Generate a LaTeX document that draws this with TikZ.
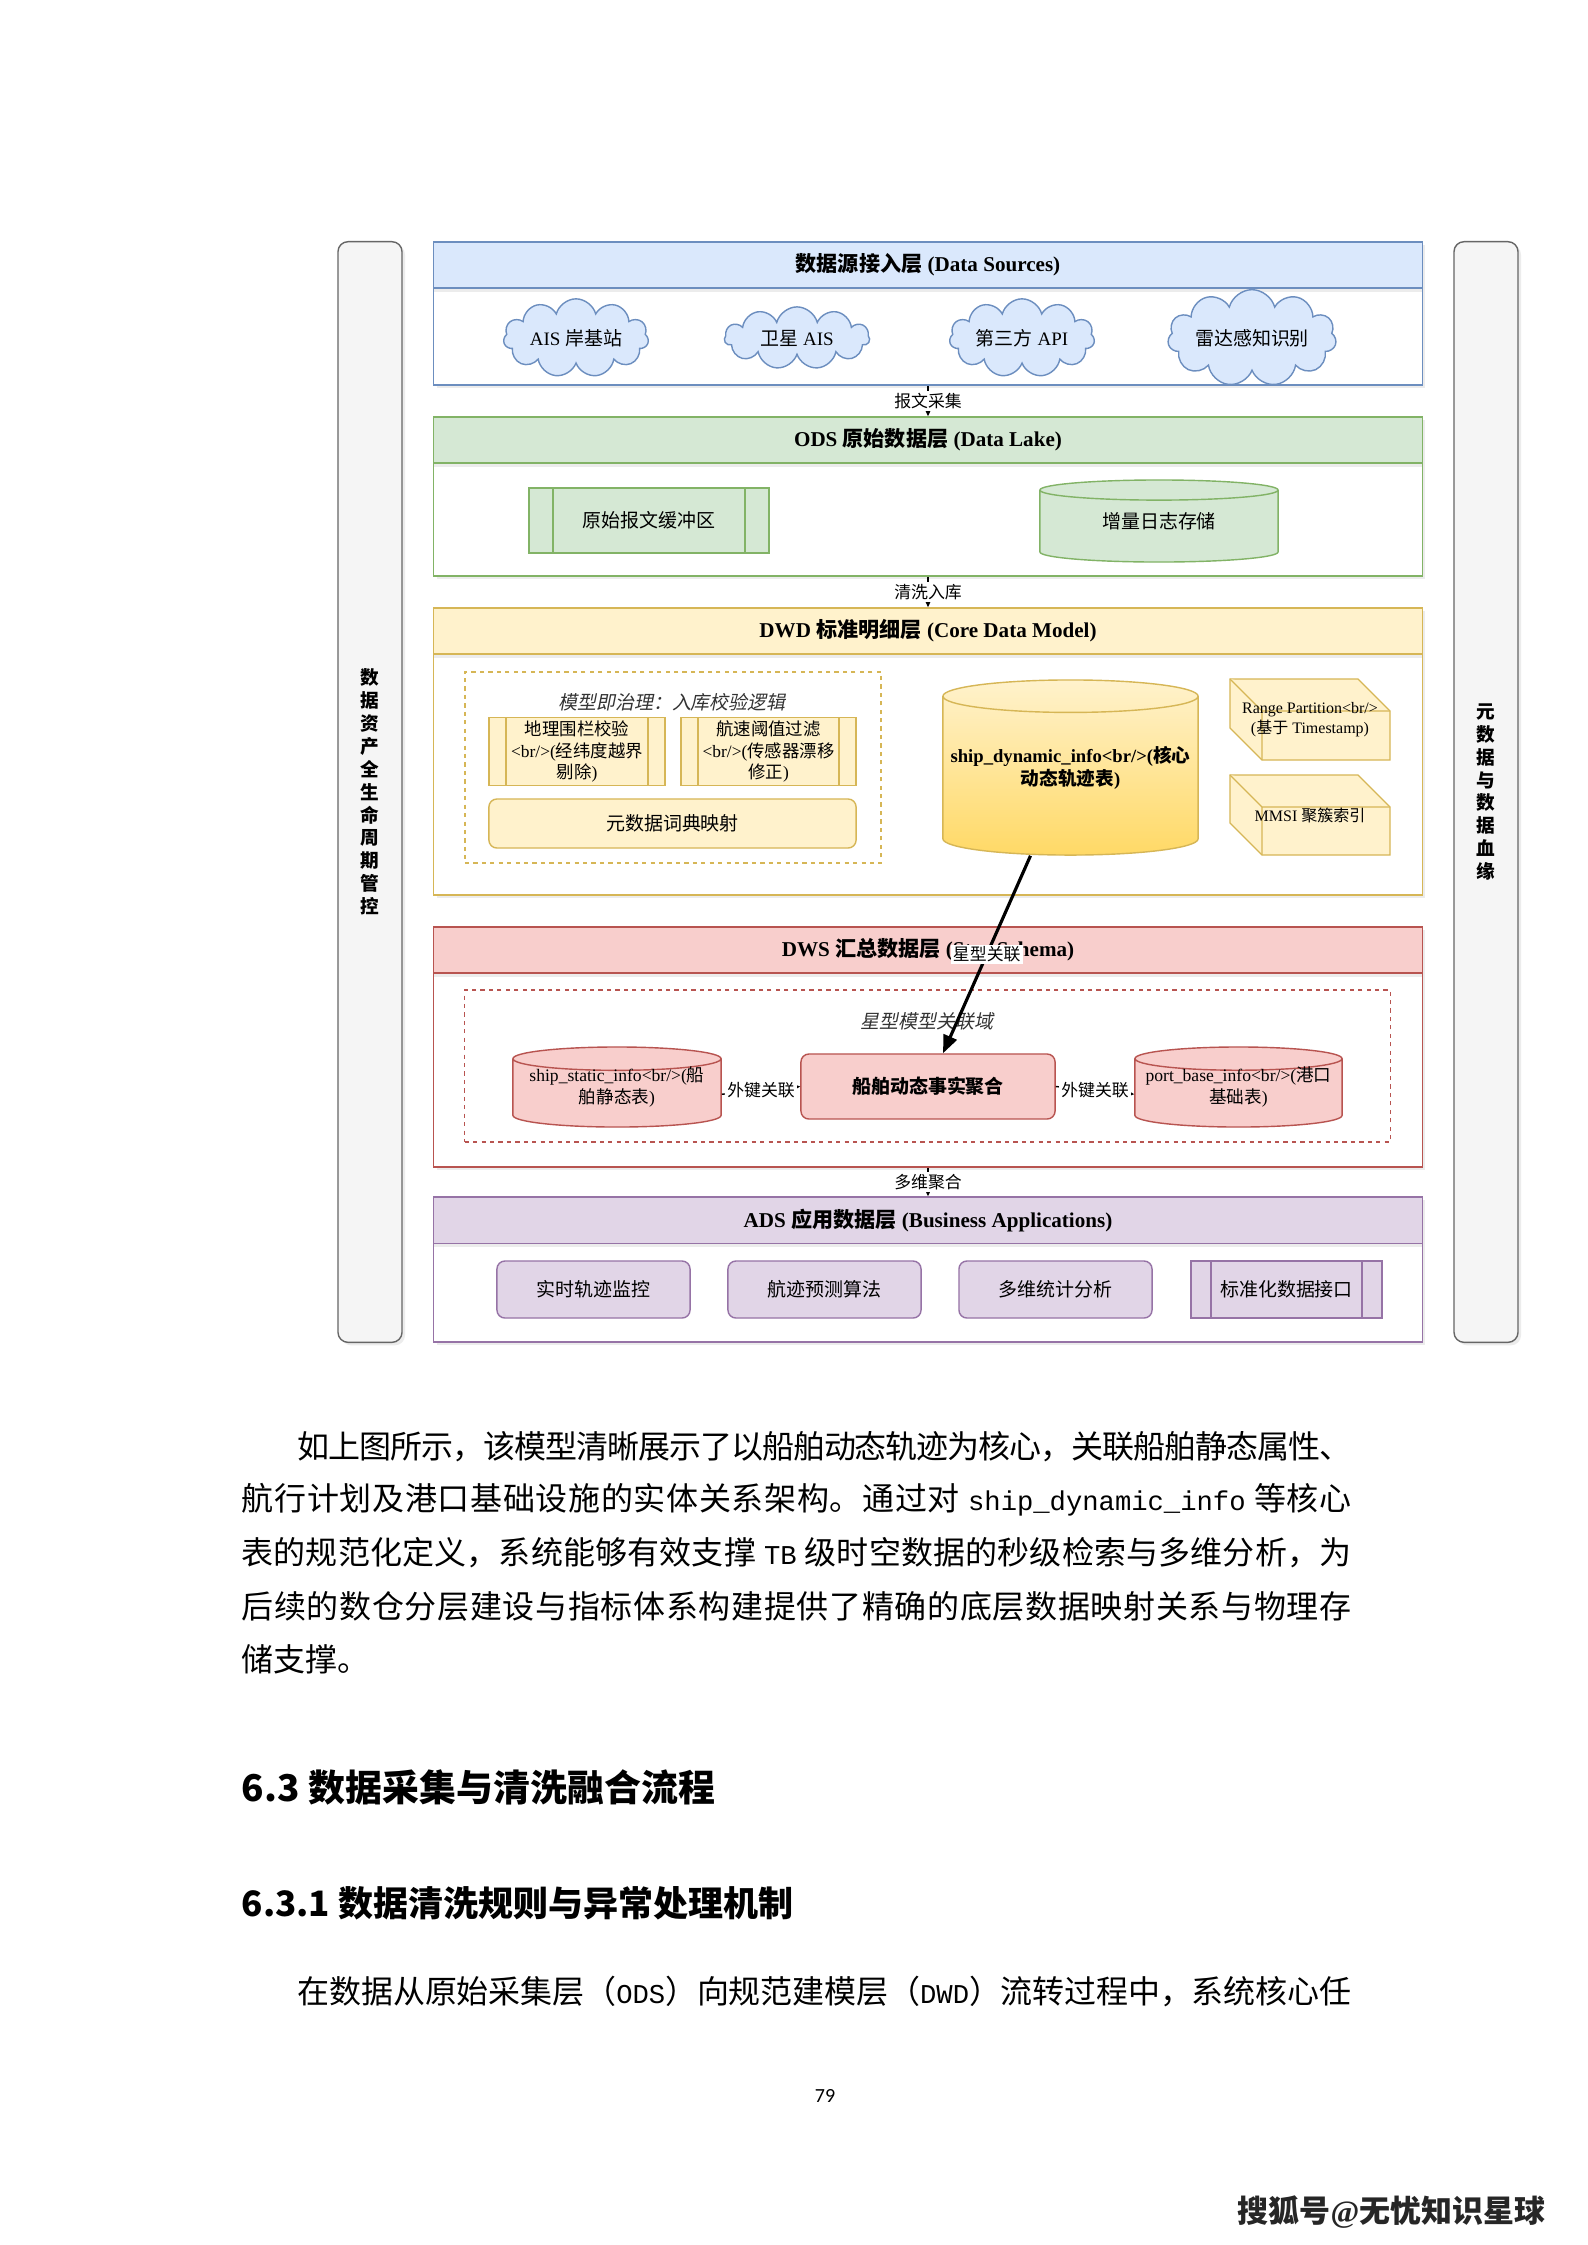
\documentclass[tikz,border=0pt]{standalone}
\usepackage{fontspec}
\setmainfont{Liberation Serif}
\newfontfamily\zh{Noto Sans CJK SC}[AutoFakeSlant=0.2]
\newfontfamily\bodylat{Liberation Mono}[Scale=0.85]
\newfontfamily\pgnum{Carlito}
\usepackage{tikz}
\usetikzlibrary{arrows.meta,shapes.geometric,shapes.symbols,positioning,calc,shadows}

% CJK runs switch to \zh by themselves
\XeTeXinterchartokenstate=1
\newXeTeXintercharclass\zhcls
\newcount\zhc
\def\zhrange#1#2{\zhc=#1\relax\loop\XeTeXcharclass\zhc=\zhcls\ifnum\zhc<#2\advance\zhc by 1\repeat}
\zhrange{"3000}{"303F}
\zhrange{"4E00}{"9FFF}
\zhrange{"FF00}{"FFEF}
\XeTeXinterchartoks 0 \zhcls = {\begingroup\zh}
\XeTeXinterchartoks 4095 \zhcls = {\begingroup\zh}
\XeTeXinterchartoks \zhcls 0 = {\endgroup}
\XeTeXinterchartoks \zhcls 4095 = {\endgroup}
\XeTeXinterchartoks \zhcls \zhcls = {\hskip 0pt plus 2pt minus 0.6pt\relax}

\definecolor{srcF}{HTML}{DAE8FC}\definecolor{srcB}{HTML}{6C8EBF}
\definecolor{odsF}{HTML}{D5E8D4}\definecolor{odsB}{HTML}{82B366}
\definecolor{dwdF}{HTML}{FFF2CC}\definecolor{dwdB}{HTML}{D6B656}\definecolor{dwdG}{HTML}{FFD966}
\definecolor{dwsF}{HTML}{F8CECC}\definecolor{dwsB}{HTML}{B85450}
\definecolor{adsF}{HTML}{E1D5E7}\definecolor{adsB}{HTML}{9673A6}
\definecolor{barF}{HTML}{F5F5F5}\definecolor{barB}{HTML}{666666}

\begin{document}
\begin{tikzpicture}[x=0.01cm, y=-0.01cm,
    bar/.style={draw=barB, fill=barF, rounded corners=0.1cm, minimum width=0.64cm, minimum height=11cm, align=center, font=\fontsize{5.3pt}{6.5pt}\selectfont\bfseries, drop shadow={opacity=0.15, shadow xshift=0.03cm, shadow yshift=-0.03cm}},
    layer/.style={draw=#1B, fill=white, minimum width=9.88cm, drop shadow={opacity=0.15, shadow xshift=0.03cm, shadow yshift=-0.03cm}},
    band/.style={draw=#1B, fill=#1F, minimum width=9.88cm, minimum height=0.44cm, anchor=north, font=\fontsize{6pt}{7pt}\selectfont\bfseries, drop shadow={opacity=0.15, shadow xshift=0cm, shadow yshift=-0.04cm}},
    cloudy/.style={cloud, cloud puffs=11, aspect=2.5, draw=srcB, fill=srcF, minimum width=1.45cm, minimum height=0.57cm, inner sep=0pt, font=\fontsize{5.4pt}{6.4pt}\selectfont},
    proc/.style 2 args={draw=#1B, fill=#1F, align=center, inner sep=1pt, font=\fontsize{5.4pt}{6.4pt}\selectfont,
        path picture={\draw[#1B] ([xshift=#2]path picture bounding box.north west) -- ([xshift=#2]path picture bounding box.south west)
            ([xshift=-#2]path picture bounding box.north east) -- ([xshift=-#2]path picture bounding box.south east);}},
    rbox/.style={draw=#1B, fill=#1F, rounded corners=0.08cm, align=center, font=\fontsize{5.4pt}{6.4pt}\selectfont},
    cyl/.style={cylinder, shape border rotate=90, anchor=shape center, draw=#1B, fill=#1F, inner sep=0.5pt},
    cyltxt/.style={align=center, inner sep=0pt, font=\fontsize{5pt}{6.5pt}\selectfont},
    grp/.style={draw=#1B, dash pattern=on 1.2pt off 1.2pt},
    gtitle/.style={font=\fontsize{5.4pt}{6.4pt}\selectfont\itshape, text=black!80},
    cube/.style={draw=dwdB, fill=dwdF},
    cubetxt/.style={align=center, font=\fontsize{4.55pt}{5.7pt}\selectfont},
    arr/.style={-{Triangle[length=0.1cm, width=0.09cm]}, line width=0.4pt},
    bigarr/.style={-{Triangle[length=0.18cm, width=0.14cm]}, line width=0.9pt},
    lbl/.style={font=\fontsize{4.8pt}{5.5pt}\selectfont, fill=white, inner sep=0.6pt},
    para/.style={anchor=west, inner sep=0pt, font=\fontsize{9.1pt}{11pt}\selectfont}
]
\fill[white] (0,0) rectangle (1587,2245);
\useasboundingbox (0,0) rectangle (1587,2245);

% side bars
\node[bar] (life) at (370,792) {数\\据\\资\\产\\全\\生\\命\\周\\期\\管\\控};
\node[bar] (meta) at (1486,792) {元\\数\\据\\与\\数\\据\\血\\缘};

% layers
\node[layer=src, minimum height=1.43cm] (src) at (928,313.5) {};
\node[band=src] (srcH) at (src.north) {数据源接入层 (Data Sources)};
\node[layer=ods, minimum height=1.59cm] (ods) at (928,496.5) {};
\node[band=ods] (odsH) at (ods.north) {ODS 原始数据层 (Data Lake)};
\node[layer=dwd, minimum height=2.87cm] (dwd) at (928,751.5) {};
\node[band=dwd] (dwdH) at (dwd.north) {DWD 标准明细层 (Core Data Model)};
\node[layer=dws, minimum height=2.40cm] (dws) at (928,1047) {};
\node[band=dws] (dwsH) at (dws.north) {DWS 汇总数据层 (Star Schema)};
\node[layer=ads, minimum height=1.45cm] (ads) at (928,1269.5) {};
\node[band=ads] (adsH) at (ads.north) {ADS 应用数据层 (Business Applications)};

% sources
\foreach \x/\nm/\lab in {576/ais/{AIS 岸基站}, 797/sat/{卫星 AIS}, 1022/api3/{第三方 API}, 1252/radar/{雷达感知识别}}
    \node[cloudy] (\nm) at (\x,338) {\lab};

% ODS
\node[proc={ods}{0.24cm}, minimum width=2.40cm, minimum height=0.65cm] (buf) at (649,520.5) {原始报文缓冲区};
\node[cyl=ods, text width=2.33cm, aspect=0.085, minimum width=2.38cm, minimum height=0.82cm] (logst) at (1159,521) {};
\node[cyltxt, font=\fontsize{5.4pt}{6.4pt}\selectfont] (logstT) at (logst.shape center) {增量日志存储};

% DWD
\node[grp=dwd, minimum width=4.16cm, minimum height=1.91cm] (chk) at (673,767.5) {};
\node[gtitle] (chkT) at (672,702) {模型即治理：入库校验逻辑};
\node[proc={dwd}{0.17cm}, minimum width=1.76cm, minimum height=0.65cm, font=\fontsize{4.95pt}{6pt}\selectfont] (geo) at (577,751.5) {地理围栏校验\\<br/>(经纬度越界\\剔除)};
\node[proc={dwd}{0.17cm}, minimum width=1.75cm, minimum height=0.65cm, font=\fontsize{4.95pt}{6pt}\selectfont] (spd) at (768.5,751.5) {航速阈值过滤\\<br/>(传感器漂移\\修正)};
\node[rbox=dwd, minimum width=3.67cm, minimum height=0.49cm] (dict) at (672.5,823.5) {元数据词典映射};
\node[cyl=dwd, text width=2.5cm, aspect=0.128, top color=dwdF, bottom color=dwdG, minimum width=2.55cm, minimum height=1.75cm] (core) at (1070.5,767.5) {};
\node[cyltxt, font=\fontsize{5.3pt}{6.5pt}\selectfont\bfseries] (coreT) at (core.shape center) {ship\_dynamic\_info<br/>(核心\\动态轨迹表)};
\foreach \ya/\yb in {679/760, 775/855} {
    \filldraw[cube] (1230,\ya) -- (1358,\ya) -- (1390,\ya+32) -- (1390,\yb) -- (1262,\yb) -- (1230,\yb-32) -- cycle;
    \draw[cube] (1230,\ya) -- (1262,\ya+32) -- (1390,\ya+32) (1262,\ya+32) -- (1262,\yb);
}
\node[cubetxt] (rng) at (1310,719.5) {Range Partition<br/>\\(基于 Timestamp)};
\node[cubetxt] (mmsi) at (1310,815) {MMSI 聚簇索引};

% DWS
\node[grp=dws, minimum width=9.25cm, minimum height=1.52cm] (star) at (927.5,1066) {};
\node[gtitle] (starT) at (927,1021) {星型模型关联域};
\node[cyl=dws, text width=2.03cm, aspect=0.113, minimum width=2.08cm, minimum height=0.80cm] (stat) at (617,1087) {};
\node[cyltxt] (statT) at (stat.shape center) {ship\_static\_info<br/>(船\\舶静态表)};
\node[rbox=dws, minimum width=2.54cm, minimum height=0.65cm, font=\fontsize{5.4pt}{6.4pt}\selectfont\bfseries] (fact) at (928,1086.5) {船舶动态事实聚合};
\node[cyl=dws, text width=2.02cm, aspect=0.113, minimum width=2.07cm, minimum height=0.80cm] (port) at (1238.5,1087) {};
\node[cyltxt] (portT) at (port.shape center) {port\_base\_info<br/>(港口\\基础表)};

% ADS
\foreach \x/\nm/\lab in {593.5/mon/实时轨迹监控, 824.5/pred/航迹预测算法, 1055.5/olap/多维统计分析}
    \node[rbox=ads, minimum width=1.93cm, minimum height=0.57cm] (\nm) at (\x,1289.5) {\lab};
\node[proc={ads}{0.20cm}, minimum width=1.91cm, minimum height=0.57cm] (iface) at (1286.5,1289.5) {标准化数据接口};

% flows
\draw[arr] (src.south) -- node[lbl] {报文采集} (ods.north);
\draw[arr] (ods.south) -- node[lbl] {清洗入库} (dwd.north);
\draw[arr] (dws.south) -- node[lbl] {多维聚合} (ads.north);
\draw[arr] (stat.east) -- node[lbl] {外键关联} (fact.west);
\draw[arr] (fact.east) -- node[lbl] {外键关联} (port.west);
\draw[bigarr] ([xshift=-0.4cm]core.south) -- node[lbl] {星型关联} ([xshift=0.15cm]fact.north);

% text of the page
\node[para] (p1) at (297,1447) {\makebox[10.53cm][s]{如上图所示，该模型清晰展示了以船舶动态轨迹为核心，关联船舶静态属性、}};
\node[para] (p2) at (241,1500) {\makebox[11.09cm][s]{航行计划及港口基础设施的实体关系架构。通过对 {\bodylat ship\_dynamic\_info} 等核心}};
\node[para] (p3) at (241,1553) {\makebox[11.09cm][s]{表的规范化定义，系统能够有效支撑 {\bodylat TB} 级时空数据的秒级检索与多维分析，为}};
\node[para] (p4) at (241,1606) {\makebox[11.09cm][s]{后续的数仓分层建设与指标体系构建提供了精确的底层数据映射关系与物理存}};
\node[para] (p5) at (241,1659) {储支撑。};
\node[para, font=\fontsize{10.5pt}{12pt}\selectfont\bfseries] (h1) at (241,1787) {{\zh 6.3} 数据采集与清洗融合流程};
\node[para, font=\fontsize{9.95pt}{12pt}\selectfont\bfseries] (h2) at (241,1903) {{\zh 6.3.1} 数据清洗规则与异常处理机制};
\node[para] (p6) at (297,1991) {\makebox[10.53cm][s]{在数据从原始采集层（{\bodylat ODS}）向规范建模层（{\bodylat DWD}）流转过程中，系统核心任}};
\node[font=\fontsize{5.7pt}{7pt}\selectfont\pgnum] (pg) at (825,2096) {79};
\node[para, font=\fontsize{8.8pt}{10pt}\selectfont\bfseries, text=black!85] (sohu) at (1237,2212) {搜狐号@无忧知识星球};
\end{tikzpicture}
\end{document}
